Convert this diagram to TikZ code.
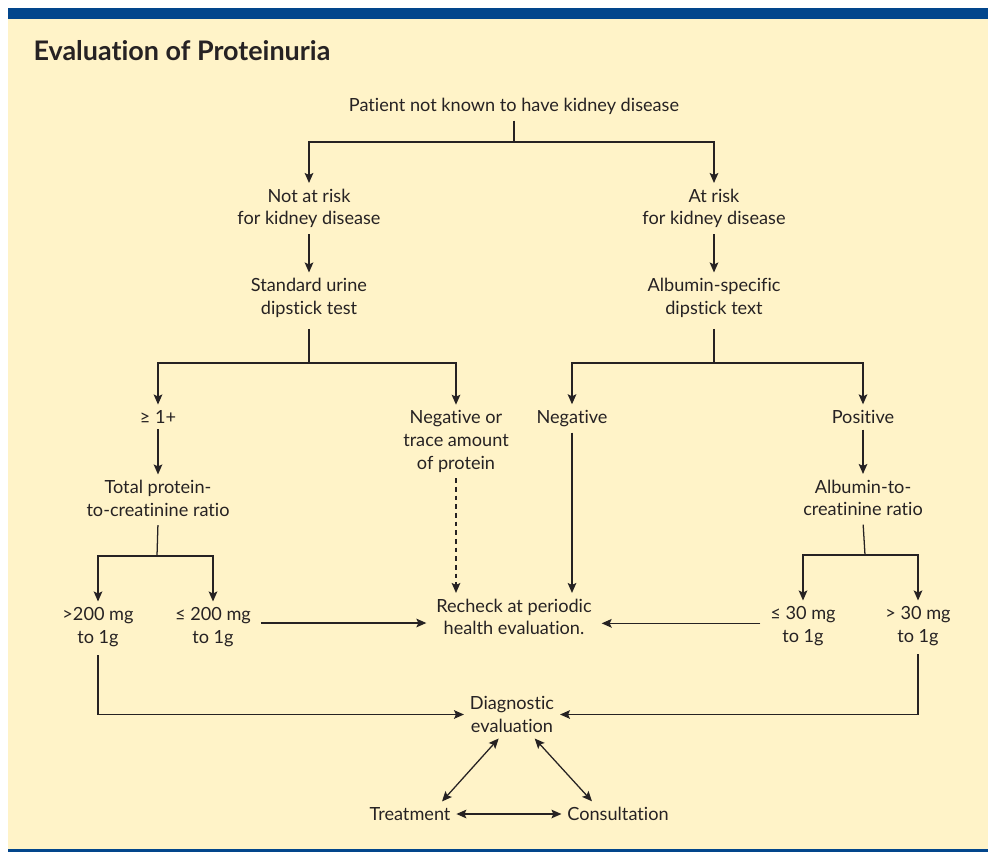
\documentclass[tikz,border=0pt]{standalone}
\usepackage{fontspec}
\setmainfont{Lato}[Ligatures={NoCommon}]
\usetikzlibrary{arrows.meta}
\definecolor{cream}{RGB}{255,243,200}
\definecolor{bandblue}{RGB}{2,70,140}
\definecolor{ink}{RGB}{38,34,35}

\begin{document}
\begin{tikzpicture}[x=0.75pt, y=-0.75pt, line width=0.95pt, color=ink,
    font=\fontsize{13.6}{17}\selectfont,
    >={Stealth[length=7.5pt, width=6.5pt, inset=1.5pt]},
    lbl/.style={align=center, inner sep=4pt},
    head/.style={font=\bfseries\fontsize{20.2}{24}\selectfont, anchor=base west, inner sep=0pt}]
  % ---- frame ----
  \useasboundingbox (0,0) rectangle (988,852);
  \fill[white] (0,0) rectangle (988,852);
  \fill[cream] (8,19) rectangle (988,849);
  \fill[bandblue] (8,8) rectangle (988,19);
  \fill[bandblue] (8,849) rectangle (988,852);
  \node[head] (title) at (33,61) {Evaluation of Proteinuria};
  % ---- nodes ----
  \node[lbl] (patient)  at (514,106.5) {Patient not known to have kidney disease};
  \node[lbl] (notrisk)  at (309,208.5) {Not at risk\\for kidney disease};
  \node[lbl] (atrisk)   at (714,208.5) {At risk\\for kidney disease};
  \node[lbl] (std)      at (309,298)   {Standard urine\\dipstick test};
  \node[lbl] (alb)      at (714,298)   {Albumin-specific\\dipstick text};
  \node[lbl] (geq)      at (158,417)   {≥ 1+};
  \node[lbl] (negtrace) at (456,441.5) {Negative or\\trace amount\\of protein};
  \node[lbl] (neg)      at (572,418.5) {Negative};
  \node[lbl] (pos)      at (863,417)   {Positive};
  \node[lbl] (tpcr)     at (158,498.5) {Total protein-\\to-creatinine ratio};
  \node[lbl] (acr)      at (863,498)   {Albumin-to-\\creatinine ratio};
  \node[lbl] (gt200)    at (98,627)    {>200 mg\\to 1g};
  \node[lbl] (le200)    at (213,627)   {≤ 200 mg\\to 1g};
  \node[lbl] (recheck)  at (514,617)   {Recheck at periodic\\health evaluation.};
  \node[lbl] (le30)     at (803,626)   {≤ 30 mg\\to 1g};
  \node[lbl] (gt30)     at (918,626)   {> 30 mg\\to 1g};
  \node[lbl] (diag)     at (512,714.5) {Diagnostic\\evaluation};
  \node[lbl] (treat)    at (410,814)   {Treatment};
  \node[lbl] (consult)  at (618,814)   {Consultation};
  % ---- branch points ----
  \coordinate (j1) at (514,142);
  \coordinate (j2) at (309,363);
  \coordinate (j3) at (714,363);
  \coordinate (j4) at (157,556);
  \coordinate (j5) at (865,555);
  % ---- top split ----
  \draw (patient.south) -- (j1);
  \draw[->] (j1) -| (notrisk.north);
  \draw[->] (j1) -| (atrisk.north);
  \draw[->] (notrisk) -- (std);
  \draw[->] (atrisk) -- (alb);
  % ---- left: standard dipstick ----
  \draw[shorten <=4pt] (std.south) -- (j2);
  \draw[->] (j2) -| (geq.north);
  \draw[->] (j2) -| (negtrace.north);
  \draw[->] (geq) -- (tpcr);
  \draw[shorten <=2pt] (tpcr.south) -- (j4);
  \draw[->] (j4) -| (gt200.north);
  \draw[->] (j4) -| (le200.north);
  \draw[->, dash pattern=on 3.5pt off 3pt] (negtrace.south) -- (negtrace.south |- recheck.north);
  \draw[->, shorten <=3pt, shorten >=3pt] ([yshift=3pt]le200.east) -- ([yshift=3pt]le200.east -| recheck.west);
  % ---- right: albumin dipstick ----
  \draw[shorten <=4pt] (alb.south) -- (j3);
  \draw[->] (j3) -| (neg.north);
  \draw[->] (j3) -| (pos.north);
  \draw[->] (neg.south) -- (neg.south |- recheck.north);
  \draw[->] (pos) -- (acr);
  \draw[shorten <=2pt] (acr.south) -- (j5);
  \draw[->] (j5) -| (le30.north);
  \draw[->] (j5) -| (gt30.north);
  \draw[->, shorten <=3pt, shorten >=3pt] ([yshift=2pt]le30.west) -- ([yshift=2pt]le30.west -| recheck.east);
  % ---- diagnostic evaluation ----
  \draw[->, shorten <=2pt] (gt200.south) |- (diag.west);
  \draw[->, shorten <=2pt] (gt30.south) |- (diag.east);
  \draw[<->] ([xshift=-10pt]diag.south) -- ([xshift=24pt]treat.north);
  \draw[<->] ([xshift=17pt]diag.south) -- ([xshift=-19.5pt]consult.north);
  \draw[<->] (treat.east) -- (consult.west);
\end{tikzpicture}
\end{document}
